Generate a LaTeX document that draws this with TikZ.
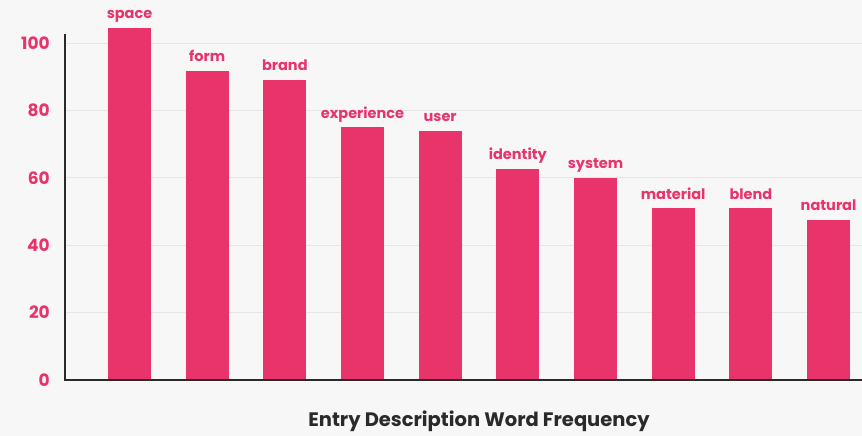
\documentclass[tikz,border=0pt]{standalone}
\usepackage{xcolor}
\usepackage{fontspec}
\setmainfont{Poppins}
\usepackage{tikz}
\usetikzlibrary{positioning}

\definecolor{barpink}{HTML}{E8336B}
\definecolor{paper}{HTML}{F7F7F8}
\definecolor{gridgray}{HTML}{E6E6E8}
\definecolor{axisgray}{HTML}{2A2A2A}

\begin{document}
\begin{tikzpicture}[x=1pt, y=1pt,
    bar/.style={fill=barpink, draw=none, inner sep=0pt, minimum width=43pt, anchor=south},
    word/.style={text=barpink, font=\bfseries\fontsize{14.5}{14.5}\selectfont, inner sep=0pt, text depth=0pt},
    tick/.style={text=barpink, font=\bfseries\fontsize{17}{17}\selectfont, anchor=east, inner sep=0pt},
    grid/.style={gridgray, line width=0.8pt},
    axis/.style={axisgray, line width=1.2pt}]
    \fill[paper] (0,0) rectangle (862,436);
    \useasboundingbox (0,0) rectangle (862,436);
    % gridlines and tick labels
    \foreach \t in {20,40,60,80,100}
        \draw[grid] (65,56+3.37*\t) -- (862,56+3.37*\t);
    \foreach \t in {0,20,40,60,80,100}
        \node[tick] (tick\t) at (50,56+3.37*\t) {\t};
    % bars with their words
    \foreach \w/\v [count=\i from 0] in {space/104.5, form/91.7, brand/89, experience/75, user/73.9, identity/62.6, system/60, material/51, blend/51, natural/47.5} {
        \node[bar, minimum height=3.37*\v pt] (bar\i) at (129.5+77.67*\i,56) {};
        \node[word, above=8.5pt of bar\i.north] (word\i) {\w};
    }
    % axes
    \draw[axis] (65,402) -- (65,56) -- (862,56);
    \node[font=\bfseries\fontsize{19.5}{19.5}\selectfont, text=axisgray] (title) at (479,15) {Entry Description Word Frequency};
\end{tikzpicture}
\end{document}
